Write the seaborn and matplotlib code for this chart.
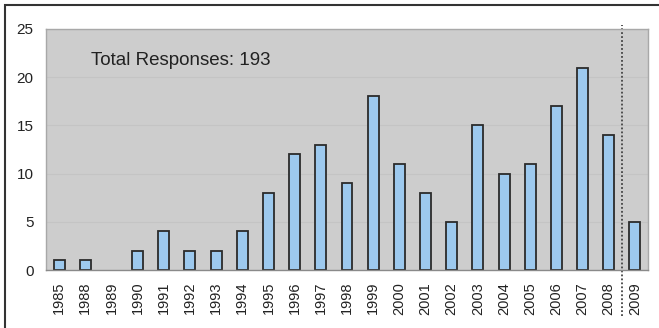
import matplotlib
matplotlib.use("Agg")
import matplotlib.pyplot as plt
import matplotlib.patches as mpatches
import matplotlib.transforms as mtransforms
import seaborn as sns
import pandas as pd

years = ["1985", "1988", "1989", "1990", "1991", "1992", "1993", "1994", "1995",
         "1996", "1997", "1998", "1999", "2000", "2001", "2002", "2003", "2004",
         "2005", "2006", "2007", "2008", "2009"]
responses = [1, 1, 0, 2, 4, 2, 2, 4, 8, 12, 13, 9, 18, 11, 8, 5, 15, 10, 11, 17, 21, 14, 5]
y_ticks = [0, 5, 10, 15, 20, 25]
total_label = f"Total Responses: {sum(responses)}"

df = pd.DataFrame({"year": years, "responses": responses})

sns.set_theme(style="white")
plt.rcParams["font.family"] = ["Liberation Sans", "DejaVu Sans"]

fig = plt.figure(figsize=(6.59, 3.28), dpi=100)
fig.patch.set_facecolor("white")
ax = fig.add_axes([46 / 659, 1 - 270 / 328, (648 - 46) / 659, (270 - 29) / 328])
ax.set_facecolor("#cdcdcd")

sns.barplot(data=df, x="year", y="responses", ax=ax, width=0.42,
            color="#9dc9ee", edgecolor="#2b2b2b", linewidth=1.3, saturation=1)

# empty years get no visible outline
for bar in ax.patches:
    if bar.get_height() == 0:
        bar.set_visible(False)

ax.set_xlim(-0.5, len(years) - 0.5)
ax.set_ylim(0, 25)
ax.set_yticks(y_ticks)
ax.yaxis.grid(True, color="#c4c4c4", linewidth=0.8)
ax.set_axisbelow(True)
ax.set_xlabel("")
ax.set_ylabel("")
ax.tick_params(axis="y", length=0, pad=9, labelsize=11, labelcolor="#222222")
ax.tick_params(axis="x", length=0, pad=8.5, labelsize=10.5, labelcolor="#222222",
               labelrotation=90)
for lbl in ax.get_xticklabels() + ax.get_yticklabels():
    lbl.set_fontweight("medium")
for s in ax.spines.values():
    s.set_color("#a8a8a8")
    s.set_linewidth(1.0)
ax.spines["bottom"].set_color("#8a8a8a")

ax.text(0.075, 0.87, total_label, transform=ax.transAxes, fontsize=13.5,
        color="#222222", va="center", ha="left")

# dotted separator before the latest (partial) year
trans = mtransforms.blended_transform_factory(ax.transData, ax.transAxes)
ax.plot([len(years) - 1.5] * 2, [-0.19, 1.015], transform=trans, color="#444444",
        linestyle=(0, (1, 1.2)), linewidth=1.3, clip_on=False)

# outer frame around the figure
fig.patches.append(mpatches.Rectangle((5 / 659, -0.1), 1.2, 1 - 5 / 328 + 0.1,
                                      transform=fig.transFigure, fill=False,
                                      edgecolor="#333333", linewidth=1.5))

fig.savefig("out.png", dpi=100)
